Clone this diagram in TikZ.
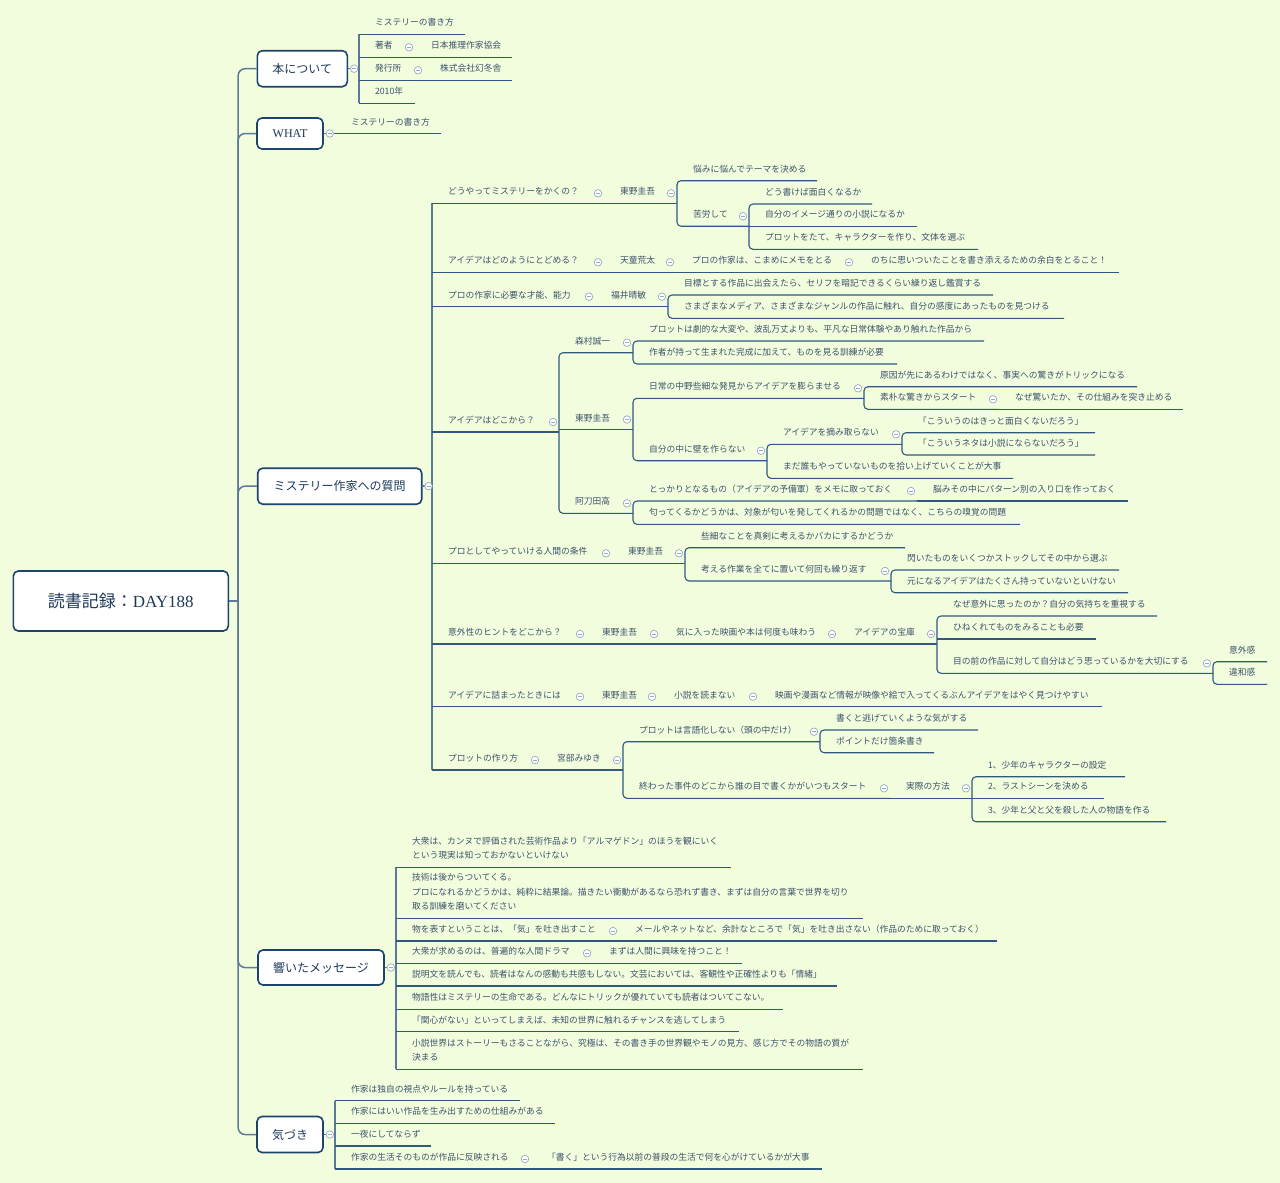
\documentclass[tikz,border=0pt]{standalone}
\usepackage{fontspec}
\setmainfont{Noto Sans CJK JP}
\newfontfamily\serf{Liberation Serif}
\definecolor{bgc}{RGB}{242,253,222}
\definecolor{lnc}{RGB}{48,88,128}
\definecolor{ln2c}{RGB}{92,122,152}
\definecolor{txc}{RGB}{60,82,106}
\definecolor{boxc}{RGB}{28,68,108}
\definecolor{mtc}{RGB}{30,58,90}
\definecolor{cbc}{RGB}{150,170,196}
\newcommand\tppad{16pt}
\newcommand\tpstrut{\rule[-8.5pt]{0pt}{17pt}}
\newcommand\mmt[5]{\pgfmathsetmacro\tpw{#4-#2}\node[tpn] (#1) at (#2,#3) {\makebox[\tpw pt][l]{\hspace*{\tppad}#5\tpstrut}};}
\newcommand\mmtm[5]{\pgfmathsetmacro\tpw{#4-#2}\node[tpn] (#1) at (#2,#3) {\parbox[b]{\tpw pt}{\leftskip=\tppad\relax #5\tpstrut}};}
\newcommand\tpul[1]{\draw[ln] (#1.south west) -- (#1.south east);}
\newcommand\tpsp[2]{\draw[ln, rounded corners=4pt] (#1.south east) -- (#1.south west) -- (#2.south west) -- (#2.south east);}
\newcommand\tpcb[1]{\node[cbtn] at ([xshift=-6pt,yshift=10pt]#1.south east) {};}
\tikzset{
  tpn/.style={anchor=south west, inner sep=0pt, outer sep=0pt, text=txc, font=\fontsize{8.75pt}{14.5pt}\selectfont},
  ln/.style={draw=lnc, line width=1.1pt},
  ln2/.style={draw=ln2c, line width=1.5pt},
  mtopic/.style={draw=boxc, line width=1.6pt, rounded corners=5pt, fill=white, text=mtc, inner sep=0pt, font=\fontsize{12pt}{14pt}\selectfont},
  cbtn/.style={circle, draw=cbc, fill=white, line width=0.7pt, minimum size=7.5pt, inner sep=0pt,
    path picture={\draw[cbc, line width=0.7pt] ([xshift=-2pt]path picture bounding box.center) -- ([xshift=2pt]path picture bounding box.center);}}
}
\begin{document}
\begin{tikzpicture}[x=1pt,y=-1pt]
\fill[bgc] (0,0) rectangle (1280,1183);
\useasboundingbox (0,0) rectangle (1280,1183);

% main topics
\node[mtopic, minimum width=215pt, minimum height=60pt, font=\fontsize{17pt}{20pt}\selectfont] (root) at (120.8,601) {読書記録：{\serf DAY188}};
\node[mtopic, minimum width=90pt, minimum height=36pt] (t1) at (302.3,68.7) {本について};
\node[mtopic, minimum width=66pt, minimum height=31pt] (t2) at (290,133.5) {\serf WHAT};
\node[mtopic, minimum width=164pt, minimum height=36pt] (t3) at (339.7,486.2) {ミステリー作家への質問};
\node[mtopic, minimum width=126pt, minimum height=35pt] (t4) at (321,967.5) {響いたメッセージ};
\node[mtopic, minimum width=66pt, minimum height=36pt] (t5) at (290,1134.5) {気づき};

% root spine
\coordinate (rs) at ([xshift=9pt]root.east);
\draw[ln2] (root.east) -- (rs);
\foreach \t in {t1,t2,t3,t4,t5} \draw[ln2, rounded corners=7pt] (rs) |- (\t.west);

% 本について
\mmt{a1}{359}{34.3}{465}{ミステリーの書き方}
\mmt{a2}{359}{57.3}{415}{著者}
\mmt{a2a}{415}{57.3}{512}{日本推理作家協会}
\mmt{a3}{359}{80.3}{424}{発行所}
\mmt{a3a}{424}{80.3}{512}{株式会社幻冬舎}
\mmt{a4}{359}{103.3}{415}{2010年}

% WHAT
\mmt{b1}{335}{133.5}{441}{ミステリーの書き方}

% ミステリー作家への質問
\mmt{c1}{432}{203.3}{604}{どうやってミステリーをかくの？}
\mmt{c1a}{604}{203.3}{677}{東野圭吾}
\mmt{c1a1}{677}{180.7}{817}{悩みに悩んでテーマを決める}
\mmt{c1a2}{677}{226.2}{749}{苦労して}
\mmt{c1a2a}{749}{204}{872}{どう書けば面白くなるか}
\mmt{c1a2b}{749}{226.2}{917}{自分のイメージ通りの小説になるか}
\mmt{c1a2c}{749}{249.3}{978}{プロットをたて、キャラクターを作り、文体を選ぶ}

\mmt{c2}{432}{272.3}{604}{アイデアはどのようにとどめる？}
\mmt{c2a}{604}{272.3}{676}{天童荒太}
\mmt{c2b}{676}{272.3}{855}{プロの作家は、こまめにメモをとる}
\mmt{c2c}{855}{272.3}{1119}{のちに思いついたことを書き添えるための余白をとること！}

\mmt{c3}{432}{306.7}{595}{プロの作家に必要な才能、能力}
\mmt{c3a}{595}{306.7}{668}{福井晴敏}
\mmt{c3a1}{668}{295}{993}{目標とする作品に出会えたら、セリフを暗記できるくらい繰り返し鑑賞する}
\mmt{c3a2}{668}{318.3}{1064}{さまざまなメディア、さまざまなジャンルの作品に触れ、自分の感度にあったものを見つける}

\mmt{c4}{432}{432}{559}{アイデアはどこから？}
\mmt{c4a}{559}{352.7}{633}{森村誠一}
\mmt{c4a1}{633}{341}{984}{プロットは劇的な大変や、波乱万丈よりも、平凡な日常体験やあり触れた作品から}
\mmt{c4a2}{633}{364}{897}{作者が持って生まれた完成に加えて、ものを見る訓練が必要}
\mmt{c4b}{559}{429.5}{633}{東野圭吾}
\mmt{c4b1}{633}{398.3}{864}{日常の中野些細な発見からアイデアを膨らませる}
\mmt{c4b1a}{864}{386.7}{1137}{原因が先にあるわけではなく、事実への驚きがトリックになる}
\mmt{c4b1b}{864}{409.3}{999}{素朴な驚きからスタート}
\mmt{c4b1c}{999}{409.3}{1183}{なぜ驚いたか、その仕組みを突き止める}
\mmt{c4b2}{633}{460.7}{767}{自分の中に壁を作らない}
\mmt{c4b2a}{767}{444.3}{902}{アイデアを摘み取らない}
\mmt{c4b2a1}{902}{432.7}{1095}{「こういうのはきっと面白くないだろう」}
\mmt{c4b2a2}{902}{455}{1095}{「こういうネタは小説にならないだろう」}
\mmt{c4b2b}{767}{478.3}{1013}{まだ誰もやっていないものを拾い上げていくことが大事}
\mmt{c4c}{559}{513.3}{633}{阿刀田高}
\mmt{c4c1}{633}{501}{917}{とっかりとなるもの（アイデアの予備軍）をメモに取っておく}
\mmt{c4c1a}{917}{501}{1128}{脳みその中にパターン別の入り口を作っておく}
\mmt{c4c2}{633}{524.3}{1020}{匂ってくるかどうかは、対象が匂いを発してくれるかの問題ではなく、こちらの嗅覚の問題}

\mmt{c5}{432}{563.3}{612}{プロとしてやっていける人間の条件}
\mmt{c5a}{612}{563.3}{685}{東野圭吾}
\mmt{c5a1}{685}{547.7}{905}{些細なことを真剣に考えるかバカにするかどうか}
\mmt{c5a2}{685}{581}{891}{考える作業を全てに置いて何回も繰り返す}
\mmt{c5a2a}{891}{570}{1119}{閃いたものをいくつかストックしてその中から選ぶ}
\mmt{c5a2b}{891}{592.7}{1128}{元になるアイデアはたくさん持っていないといけない}

\mmt{c6}{432}{644}{586}{意外性のヒントをどこから？}
\mmt{c6a}{586}{644}{660}{東野圭吾}
\mmt{c6b}{660}{644}{838}{気に入った映画や本は何度も味わう}
\mmt{c6c}{838}{644}{937}{アイデアの宝庫}
\mmt{c6c1}{937}{616}{1157}{なぜ意外に思ったのか？自分の気持ちを重視する}
\mmt{c6c2}{937}{639}{1096}{ひねくれてものをみることも必要}
\mmt{c6c3}{937}{673.3}{1213}{目の前の作品に対して自分はどう思っているかを大切にする}
\mmt{c6c3a}{1213}{661.7}{1267}{意外感}
\mmt{c6c3b}{1213}{684.3}{1267}{違和感}

\mmt{c7}{432}{706.7}{586}{アイデアに詰まったときには}
\mmt{c7a}{586}{706.7}{658}{東野圭吾}
\mmt{c7b}{658}{706.7}{759}{小説を読まない}
\mmt{c7c}{759}{706.7}{1102}{映画や漫画など情報が映像や絵で入ってくるぶんアイデアをはやく見つけやすい}

\mmt{c8}{432}{770}{541}{プロットの作り方}
\mmt{c8a}{541}{770}{623}{宮部みゆき}
\mmt{c8a1}{623}{741.7}{820}{プロットは言語化しない（頭の中だけ）}
\mmt{c8a1a}{820}{730}{978}{書くと逃げていくような気がする}
\mmt{c8a1b}{820}{752.7}{934}{ポイントだけ箇条書き}
\mmt{c8a2}{623}{798.3}{890}{終わった事件のどこから誰の目で書くかがいつもスタート}
\mmt{c8a2a}{890}{798.3}{972}{実際の方法}
\mmt{c8a2a1}{972}{776.7}{1125}{1、少年のキャラクターの設定}
\mmt{c8a2a2}{972}{798.3}{1104}{2、ラストシーンを決める}
\mmt{c8a2a3}{972}{821.7}{1166}{3、少年と父と父を殺した人の物語を作る}

% 響いたメッセージ
\mmtm{d1}{396}{867.3}{731}{大衆は、カンヌで評価された芸術作品より「アルマゲドン」のほうを観にいく\\という現実は知っておかないといけない}
\mmtm{d2}{396}{918.3}{863}{技術は後からついてくる。\\プロになれるかどうかは、純粋に結果論。描きたい衝動があるなら恐れず書き、まずは自分の言葉で世界を切り\\取る訓練を磨いてください}
\mmt{d3}{396}{941}{619}{物を表すということは、「気」を吐き出すこと}
\mmt{d3a}{619}{941}{997}{メールやネットなど、余計なところで「気」を吐き出さない（作品のために取っておく）}
\mmt{d4}{396}{963.3}{593}{大衆が求めるのは、普遍的な人間ドラマ}
\mmt{d4a}{593}{963.3}{742}{まずは人間に興味を持つこと！}
\mmt{d5}{396}{986}{837}{説明文を読んでも、読者はなんの感動も共感もしない。文芸においては、客観性や正確性よりも「情緒」}
\mmt{d6}{396}{1009.3}{783}{物語性はミステリーの生命である。どんなにトリックが優れていても読者はついてこない。}
\mmt{d7}{396}{1031.7}{739}{「関心がない」といってしまえば、未知の世界に触れるチャンスを逃してしまう}
\mmtm{d8}{396}{1069.3}{863}{小説世界はストーリーもさることながら、究極は、その書き手の世界観やモノの見方、感じ方でその物語の質が\\決まる}

% 気づき
\mmt{e1}{335}{1100.7}{520}{作家は独自の視点やルールを持っている}
\mmt{e2}{335}{1123.3}{555}{作家にはいい作品を生み出すための仕組みがある}
\mmt{e3}{335}{1146}{431}{一夜にしてならず}
\mmt{e4}{335}{1169}{531}{作家の生活そのものが作品に反映される}
\mmt{e4a}{531}{1169}{822}{「書く」という行為以前の普段の生活で何を心がけているかが大事}

% main-level connectors
\draw[ln2] (t1.east) -- (t1.east -| a1.south west);
\draw[ln2] (a1.south west) -- (a4.south west);
\draw[ln2] (t2.east) -- (b1.south west);
\draw[ln2] (t3.east) -- (t3.east -| c1.south west);
\draw[ln2] (c1.south west) -- (c8.south west);
\draw[ln2] (t4.east) -- (t4.east -| d1.south west);
\draw[ln2] (d1.south west) -- (d8.south west);
\draw[ln2] (t5.east) -- (t5.east -| e1.south west);
\draw[ln2] (e1.south west) -- (e4.south west);

% underlines
\foreach \n in {a1,a2,a2a,a3,a3a,a4,b1,c1,c1a,c1a2b,c2,c2a,c2b,c2c,c3,c3a,c4,c4b,c4b1c,c4c1a,
  c5,c5a,c6,c6a,c6b,c6c,c6c2,c7,c7a,c7b,c7c,c8,c8a,c8a2a,c8a2a2,
  d1,d2,d3,d3a,d4,d4a,d5,d6,d7,d8,e1,e2,e3,e4,e4a} {\tpul{\n}}

% rounded spines
\tpsp{c1a1}{c1a2}
\tpsp{c1a2a}{c1a2c}
\tpsp{c3a1}{c3a2}
\tpsp{c4a}{c4c}
\tpsp{c4a1}{c4a2}
\tpsp{c4b1}{c4b2}
\tpsp{c4b1a}{c4b1b}
\tpsp{c4b2a}{c4b2b}
\tpsp{c4b2a1}{c4b2a2}
\tpsp{c4c1}{c4c2}
\tpsp{c5a1}{c5a2}
\tpsp{c5a2a}{c5a2b}
\tpsp{c6c1}{c6c3}
\tpsp{c6c3a}{c6c3b}
\tpsp{c8a1}{c8a2}
\tpsp{c8a1a}{c8a1b}
\tpsp{c8a2a1}{c8a2a3}

% collapse buttons
\foreach \t in {t1,t2,t3,t4,t5} \node[cbtn] at ([xshift=6pt]\t.east) {};
\foreach \n in {a2,a3,c1,c1a,c1a2,c2,c2a,c2b,c3,c3a,c4,c4a,c4b,c4b1,c4b1b,c4b2,c4b2a,c4c,c4c1,
  c5,c5a,c5a2,c6,c6a,c6b,c6c,c6c3,c7,c7a,c7b,c8,c8a,c8a1,c8a2,c8a2a,d3,d4,e4} {\tpcb{\n}}
\end{tikzpicture}
\end{document}
